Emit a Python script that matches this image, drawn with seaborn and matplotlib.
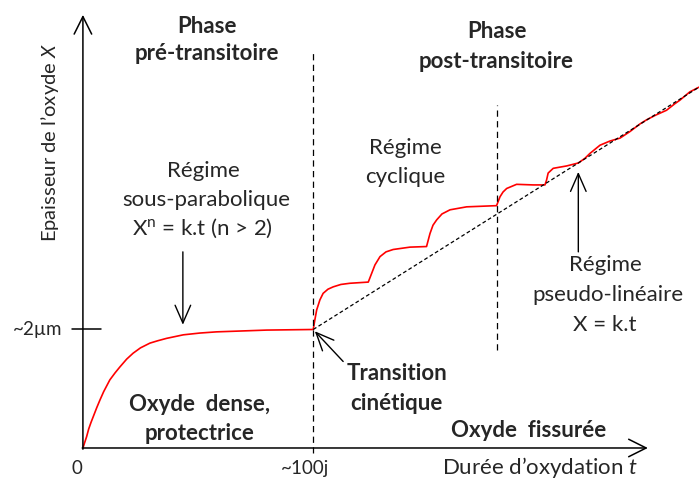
import matplotlib
matplotlib.use("Agg")
import matplotlib.pyplot as plt
import seaborn as sns

# oxide thickness curve (t in days, X in um), read from the schematic
pre_t = [0, 1.0, 1.6, 2.5, 3.5, 4.5, 6.0, 7.4, 9.0, 11.7, 14.0, 16.1, 19.0, 21.8, 25.0,
         29.1, 32.5, 36.3, 43.6, 50.8, 58.0, 65.3, 79.8, 100]
pre_x = [0, 0.12, 0.19, 0.32, 0.43, 0.53, 0.68, 0.81, 0.95, 1.15, 1.27, 1.37, 1.50, 1.60, 1.69,
         1.77, 1.81, 1.85, 1.91, 1.94, 1.96, 1.97, 1.99, 2.00]

post_t = [100, 100.7, 101.5, 102.9, 104.3, 106.4, 108.7, 112.0, 115.9, 123.9,
          125.4, 126.8, 129.0, 131.6, 134.7, 142.0, 149.2,
          150.7, 152.0, 153.6, 155.9, 159.4, 166.6, 179.6,
          181.1, 182.4, 184.0, 188.3, 195.5, 200.6,
          201.3, 202.0, 204.2, 210.0, 215.1,
          218.0, 220.1, 224.5, 228.8, 233.2, 237.5, 241.9, 244.8, 248.8,
          253.4, 257.0, 259.2, 263.5, 267.5]
post_x = [2.00, 2.16, 2.33, 2.50, 2.61, 2.68, 2.72, 2.76, 2.78, 2.80,
          2.95, 3.09, 3.23, 3.31, 3.35, 3.39, 3.40,
          3.62, 3.76, 3.85, 3.95, 4.02, 4.07, 4.09,
          4.24, 4.32, 4.38, 4.45, 4.44, 4.44,
          4.52, 4.64, 4.72, 4.76, 4.81,
          4.89, 4.97, 5.11, 5.18, 5.23, 5.34, 5.47, 5.54, 5.62,
          5.70, 5.81, 5.87, 6.01, 6.09]

# linear trend line
lin_t = [100, 267.5]
lin_x = [2.00, 6.09]

t_transition = 100
t_pseudo = 179.6
x_transition = 2.0

sns.set_theme(style="white")
plt.rcParams['font.family'] = ['Lato', 'DejaVu Sans']
plt.rcParams['mathtext.fontset'] = 'custom'
plt.rcParams['mathtext.rm'] = 'Lato'
plt.rcParams['mathtext.it'] = 'Lato:italic'
plt.rcParams['mathtext.bf'] = 'Lato:bold'

fig = plt.figure(figsize=(6.99, 4.82), dpi=100)
ax = fig.add_axes([0, 0, 1, 1])
ax.set_xlim(-36.0, 267.5)
ax.set_ylim(-0.574, 7.561)
ax.axis('off')

# curve
sns.lineplot(x=pre_t + post_t[1:], y=pre_x + post_x[1:], color='red', lw=1.2,
             estimator=None, sort=False, ax=ax)
ax.plot(lin_t, lin_x, color='black', ls=(0, (3, 2)), lw=0.9)

# vertical separators
ax.plot([t_transition, t_transition], [-0.08, 6.67], color='black', ls=(0, (5, 3.5)), lw=0.9)
ax.plot([t_pseudo, t_pseudo], [1.65, 5.79], color='black', ls=(0, (5, 3.5)), lw=0.9)

# axes arrows
arr = dict(arrowstyle='->,head_length=0.7,head_width=0.35', color='black', lw=1.1,
           shrinkA=0, shrinkB=0, mutation_scale=18)
ax.annotate('', xy=(0, 7.31), xytext=(0, -0.02), arrowprops=arr)
ax.annotate('', xy=(245.3, 0), xytext=(-0.3, 0), arrowprops=arr)
ax.plot([-4.8, 7.8], [x_transition, x_transition], color='black', lw=1.1)

fs_tick = 13.5
fs = 16
ax.text(-14.5, 5.15, "Epaisseur de l’oxyde $\\mathit{X}$", rotation=90, ha='center', va='center', fontsize=14.5)
ax.text(-9.1, 2.0, "~2µm", ha='right', va='center', fontsize=fs_tick)
ax.text(-2.6, -0.34, "0", ha='center', va='center', fontsize=fs_tick)
ax.text(96.4, -0.34, "~100j", ha='center', va='center', fontsize=fs_tick)
ax.text(198.4, -0.44, "Durée d’oxydation $\\mathit{t}$", ha='center', va='baseline', fontsize=fs)

bold = dict(ha='center', va='center', fontsize=fs, fontweight='bold')
ax.text(53.8, 7.12, "Phase", **bold)
ax.text(53.8, 6.65, "pré-transitoire", **bold)
ax.text(179.6, 7.03, "Phase", **bold)
ax.text(179.6, 6.52, "post-transitoire", **bold)
ax.text(50.8, 0.73, "Oxyde  dense,", **bold)
ax.text(50.8, 0.25, "protectrice", **bold)
ax.text(136.2, 1.26, "Transition", **bold)
ax.text(136.2, 0.75, "cinétique", **bold)
ax.text(193.4, 0.30, "Oxyde  fissurée", **bold)

norm = dict(ha='center', va='center', fontsize=fs)
ax.text(52.1, 4.68, "Régime", **norm)
ax.text(53.4, 4.19, "sous-parabolique", **norm)
ax.text(52.1, 3.70, "X$^\\mathrm{n}$ = k.t (n > 2)", **norm)
ax.text(139.8, 5.07, "Régime", **norm)
ax.text(139.8, 4.58, "cyclique", **norm)
ax.text(226.7, 3.08, "Régime", **norm)
ax.text(228.0, 2.58, "pseudo-linéaire", **norm)
ax.text(226.7, 2.08, "X = k.t", **norm)

# pointer arrows
ptr = dict(arrowstyle='->,head_length=0.8,head_width=0.35', color='black', lw=1.0,
           shrinkA=0, shrinkB=0, mutation_scale=16)
ax.annotate('', xy=(43.4, 2.08), xytext=(43.4, 3.31), arrowprops=ptr)
ax.annotate('', xy=(100.7, 1.97), xytext=(113.0, 1.46), arrowprops=ptr)
ax.annotate('', xy=(215.1, 4.66), xytext=(215.1, 3.31), arrowprops=ptr)

fig.savefig('out.png', dpi=100)
